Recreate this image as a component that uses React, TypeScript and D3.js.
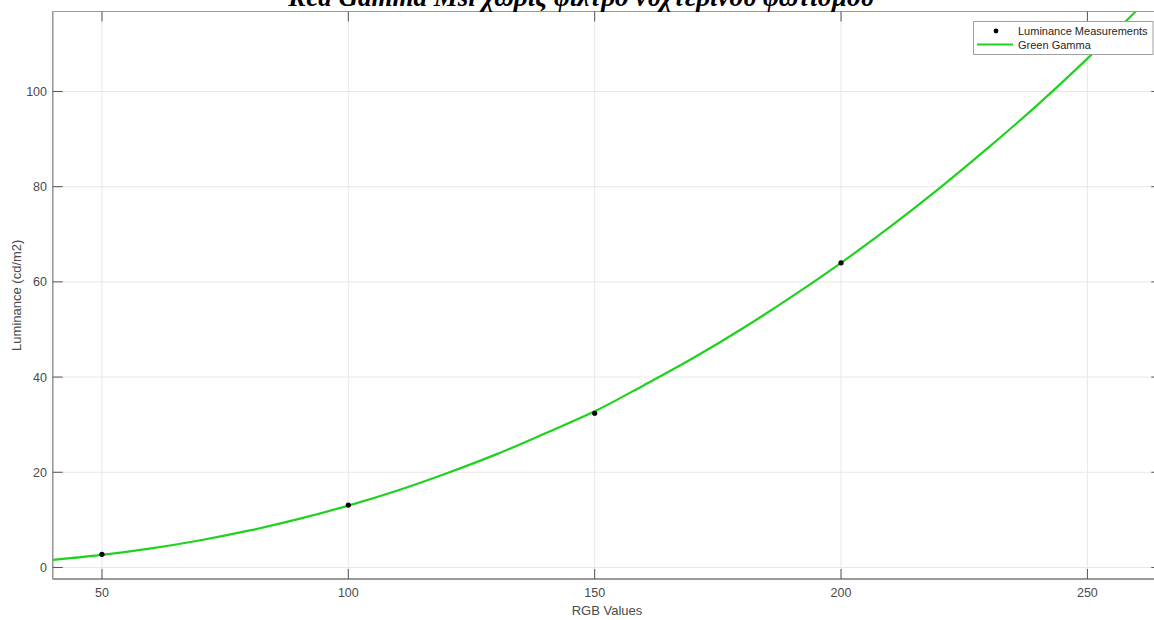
import React from "react";
import * as d3 from "d3";

const W = 1154;
const H = 620;

const titleText = "Red Gamma Msi χωρίς φίλτρο νυχτερινού φωτισμού";
const xLabel = "RGB Values";
const yLabel = "Luminance (cd/m2)";
const legendLabels = ["Luminance Measurements", "Green Gamma"];

const measX = [50, 100, 150, 200];
const measY = [2.77, 13.1, 32.4, 64.0];

const curveX = [40, 50, 60, 70, 80, 90, 100, 110, 120, 130, 140, 150, 160, 170, 180, 190, 200, 210, 220, 230, 240, 250, 260, 270];
const curveY = [1.58, 2.64, 4.01, 5.72, 7.78, 10.2, 13.0, 16.18, 19.8, 23.76, 28.2, 32.8, 38.3, 44.0, 50.2, 56.9, 64.0, 71.6, 79.7, 88.3, 97.3, 106.9, 117.0, 127.6];

const xTicks = [50, 100, 150, 200, 250];
const yTicks = [0, 20, 40, 60, 80, 100];

const L = 52.7, R = 1161.3, T = 11.5, B = 579;

export default function App() {
  const x = d3.scaleLinear().domain([40, 265]).range([L, R]);
  const y = d3.scaleLinear().domain([-2.42, 116.8]).range([B, T]);
  const line = d3
    .line<number>()
    .x((_, i) => x(curveX[i]))
    .y((d) => y(d))
    .curve(d3.curveCatmullRom.alpha(0.5));
  const axisCol = "#9a9a9a";
  const tickCol = "#555";
  const textCol = "#4a4a4a";
  const font = "'Liberation Sans', Arial, Helvetica, sans-serif";
  return (
    <svg
      width={W}
      height={H}
      style={{ position: "absolute", left: 0, top: 0, background: "#fff" }}
      fontFamily={font}
    >
      <defs>
        <clipPath id="plotclip">
          <rect x={L} y={T} width={R - L} height={B - T} />
        </clipPath>
      </defs>
      <rect x={0} y={0} width={W} height={H} fill="#fff" />
      {/* grid */}
      {xTicks.map((t) => (
        <line key={"gx" + t} x1={x(t)} x2={x(t)} y1={T} y2={B} stroke="#e8e8e8" strokeWidth={1} />
      ))}
      {yTicks.map((t) => (
        <line key={"gy" + t} x1={L} x2={R} y1={y(t)} y2={y(t)} stroke="#e8e8e8" strokeWidth={1} />
      ))}
      {/* curve */}
      <g clipPath="url(#plotclip)">
        <path d={line(curveY) || ""} fill="none" stroke="#1ed21e" strokeWidth={2.2} />
        {measX.map((mx, i) => (
          <circle key={"m" + i} cx={x(mx)} cy={y(measY[i])} r={2.6} fill="#000" />
        ))}
      </g>
      {/* axes box */}
      <rect x={L} y={T} width={R - L} height={B - T} fill="none" stroke={axisCol} strokeWidth={1} />
      <line x1={L} x2={R} y1={B} y2={B} stroke={axisCol} strokeWidth={2} />
      <line x1={L} x2={L} y1={T} y2={B} stroke={axisCol} strokeWidth={1.5} />
      {/* ticks */}
      {xTicks.map((t) => (
        <g key={"tx" + t}>
          <line x1={x(t)} x2={x(t)} y1={B} y2={B - 10} stroke={tickCol} strokeWidth={1} />
          <line x1={x(t)} x2={x(t)} y1={T} y2={T + 10} stroke={tickCol} strokeWidth={1} />
          <text x={x(t)} y={597} textAnchor="middle" fontSize={12.5} fill={textCol}>
            {t}
          </text>
        </g>
      ))}
      {yTicks.map((t) => (
        <g key={"ty" + t}>
          <line x1={L} x2={L + 10} y1={y(t)} y2={y(t)} stroke={tickCol} strokeWidth={1} />
          <line x1={R} x2={R - 10} y1={y(t)} y2={y(t)} stroke={tickCol} strokeWidth={1} />
          <text x={47} y={y(t) + 4.5} textAnchor="end" fontSize={12.5} fill={textCol}>
            {t}
          </text>
        </g>
      ))}
      {/* axis labels */}
      <text x={(L + R) / 2} y={615} textAnchor="middle" fontSize={13} fill={textCol}>
        {xLabel}
      </text>
      <text
        transform={`translate(21, ${(T + B) / 2}) rotate(-90)`}
        textAnchor="middle"
        fontSize={13}
        fill={textCol}
      >
        {yLabel}
      </text>
      {/* title */}
      <text
        x={581}
        y={5.5}
        textAnchor="middle"
        fontSize={27}
        fontWeight="bold"
        fontStyle="italic"
        fontFamily="'Liberation Serif', 'Times New Roman', serif"
        fill="#000"
      >
        {titleText}
      </text>
      {/* legend */}
      <g>
        <rect x={973.5} y={21.5} width={179.5} height={33} fill="#fff" stroke="#a0a0a0" strokeWidth={1} />
        <circle cx={996} cy={31} r={2.4} fill="#000" />
        <text x={1018} y={35} fontSize={11} fill="#262626">
          {legendLabels[0]}
        </text>
        <line x1={977} x2={1013} y1={44.5} y2={44.5} stroke="#1ed21e" strokeWidth={2} />
        <text x={1018} y={48.5} fontSize={11} fill="#262626">
          {legendLabels[1]}
        </text>
      </g>
    </svg>
  );
}
